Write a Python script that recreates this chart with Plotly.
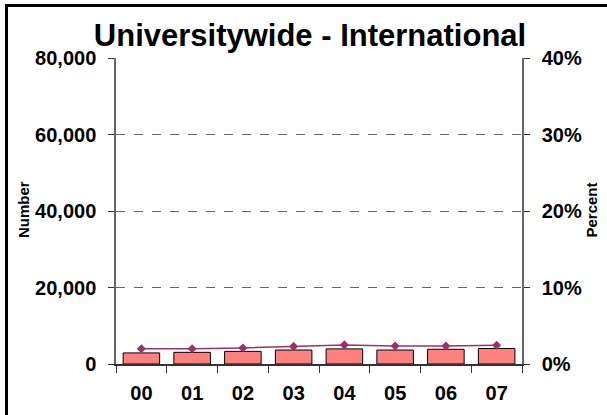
import plotly.graph_objects as go
from plotly.subplots import make_subplots

years = ["00", "01", "02", "03", "04", "05", "06", "07"]
numbers = [2900, 3050, 3300, 3650, 3950, 3650, 3850, 4050]
percents = [0.020, 0.020, 0.021, 0.023, 0.025, 0.0235, 0.0235, 0.0245]

title_text = "Universitywide - International"
left_title = "Number"
right_title = "Percent"

W, H = 607, 415
ML, MR, MT, MB = 116, 85, 58, 51
PW = W - ML - MR
PH = H - MT - MB

def px_x(p):
    return (p - ML) / PW

def px_y(p):
    return (H - MB - p) / PH

FONT = "Liberation Sans, Arial, sans-serif"

fig = make_subplots(specs=[[{"secondary_y": True}]])
fig.add_trace(go.Bar(x=years, y=numbers, marker=dict(color="#FF8080", line=dict(color="black", width=1)),
                     showlegend=False, hoverinfo="skip"), secondary_y=False)
fig.add_trace(go.Scatter(x=years, y=percents, mode="lines+markers",
                         line=dict(color="#993366", width=1.5),
                         marker=dict(symbol="diamond", size=7, color="#993366"),
                         showlegend=False, hoverinfo="skip"), secondary_y=True)

tickfont = dict(family=FONT, size=20, color="black", weight="bold")

border = dict(color="black", width=3)
fig.update_layout(
    width=W, height=H,
    margin=dict(l=ML, r=MR, t=MT, b=MB),
    paper_bgcolor="white", plot_bgcolor="white",
    bargap=0.28,
    title=dict(text=title_text, x=310 / W, xanchor="center",
               y=1 - 35 / H, yanchor="middle", yref="container", xref="container",
               font=dict(family=FONT, size=31, color="black", weight="bold")),
    annotations=[
        dict(text=left_title, textangle=-90, x=px_x(23), y=px_y(210), xref="paper", yref="paper",
             showarrow=False, xanchor="center", yanchor="middle",
             font=dict(family=FONT, size=15, color="black", weight="bold")),
        dict(text=right_title, textangle=-90, x=px_x(591), y=px_y(210.5), xref="paper", yref="paper",
             showarrow=False, xanchor="center", yanchor="middle",
             font=dict(family=FONT, size=15, color="black", weight="bold")),
    ],
    shapes=[
        dict(type="line", xref="paper", yref="paper", x0=px_x(6.5), x1=px_x(6.5),
             y0=px_y(5), y1=px_y(420), line=border, layer="above"),
        dict(type="line", xref="paper", yref="paper", x0=px_x(5), x1=px_x(620),
             y0=px_y(5.5), y1=px_y(5.5), line=border, layer="above"),
    ],
)

fig.update_xaxes(domain=[0, 1], tickfont=tickfont, showline=True, linecolor="#333333", linewidth=1.5,
                 ticks="outside", tickson="boundaries", ticklen=7, tickcolor="#333333",
                 showgrid=False, ticklabelstandoff=10)
fig.update_yaxes(range=[0, 80000], dtick=20000, tickformat=",", tickfont=tickfont,
                 showline=True, linecolor="#666666", linewidth=1.5,
                 ticks="outside", ticklen=6, tickcolor="#333333",
                 showgrid=True, gridcolor="#666666", griddash="dash", gridwidth=1,
                 zeroline=False, ticklabelstandoff=8, secondary_y=False)
fig.update_yaxes(range=[0, 0.40], dtick=0.10, tickformat=".0%", tickfont=tickfont,
                 showline=True, linecolor="#666666", linewidth=1.5,
                 ticks="outside", ticklen=6, tickcolor="#333333",
                 showgrid=False, zeroline=False, ticklabelstandoff=8, secondary_y=True)

fig.write_html("out.html", config={"displayModeBar": False},
               post_script="document.body.style.margin='0';document.body.style.overflow='hidden';")
